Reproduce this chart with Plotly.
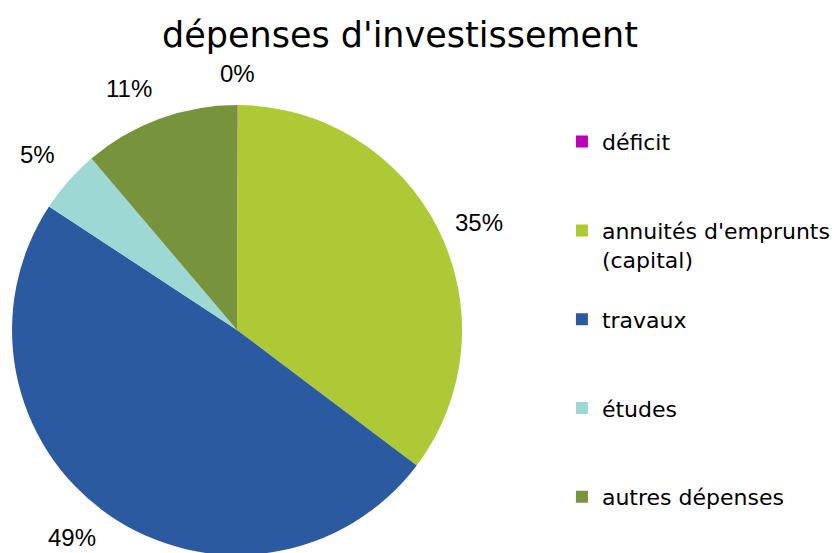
import math
import plotly.graph_objects as go

labels = ["déficit", "annuités d'emprunts (capital)", "travaux", "études", "autres dépenses"]
legend_names = ["déficit", "annuités d'emprunts<br>(capital)", "travaux", "études", "autres dépenses"]
values = [0.04, 35.25, 49.0, 4.55, 11.2]
colors = ["#B800B8", "#ADC935", "#2B5AA0", "#9DD8D4", "#77933C"]

W, H = 838, 553
VISIBLE_BOTTOM = H - 8  # page body margin shifts the figure down by 8px
dom_x = [0.0048, 0.5418]
dom_y = [0.0108, 0.8246]


# pad legend entries to the same number of lines so entries are evenly spaced
def pad(name, n=3):
    k = name.count("<br>") + 1
    return name + "<br>&nbsp;" * (n - k)


names = [pad(n) for n in legend_names[:-1]] + [legend_names[-1]]

fig = go.Figure(go.Pie(
    labels=names,
    values=values,
    sort=False,
    direction="clockwise",
    rotation=0,
    marker=dict(colors=colors),
    textinfo="none",
    domain=dict(x=dom_x, y=dom_y),
    hovertext=labels,
    hoverinfo="text+percent",
))

# percentage labels placed outside each slice, derived from the data
LABEL_SIZE = 24
label_h = LABEL_SIZE * 1.25
total = sum(values)
wpx = (dom_x[1] - dom_x[0]) * W
hpx = (dom_y[1] - dom_y[0]) * H
r = min(wpx, hpx) / 2
cx = (dom_x[0] + dom_x[1]) / 2 * W
cy = (1 - (dom_y[0] + dom_y[1]) / 2) * H
annotations = []
cum = 0.0
for v in values:
    mid = (cum + v / 2) / total * 2 * math.pi
    cum += v
    sx, cyd = math.sin(mid), math.cos(mid)
    rl = r * 1.07
    px = cx + rl * sx
    py = cy - rl * cyd
    xa = "left" if sx > 0.3 else ("right" if sx < -0.3 else "center")
    ya = "bottom" if cyd > 0.5 else ("top" if cyd < -0.5 else "middle")
    # keep the label inside the visible page
    if ya == "top" and py + label_h > VISIBLE_BOTTOM:
        ya = "bottom"
        py = VISIBLE_BOTTOM
    annotations.append(dict(
        x=px / W, y=1 - py / H, xref="paper", yref="paper",
        text=f"{round(v / total * 100)}%", showarrow=False,
        xanchor=xa, yanchor=ya,
        font=dict(family="Liberation Sans", size=LABEL_SIZE, color="#000000"),
    ))

fig.update_layout(
    width=W, height=H,
    margin=dict(l=0, r=0, t=0, b=0, autoexpand=False),
    paper_bgcolor="white",
    plot_bgcolor="white",
    title=dict(text="dépenses d'investissement", x=0.4678, xanchor="center",
               y=1 - 26.5 / H, yanchor="middle",
               font=dict(family="DejaVu Sans", size=35, color="#000000")),
    legend=dict(x=0.661, y=0.796, xanchor="left", yanchor="top",
                valign="top", traceorder="normal",
                font=dict(family="DejaVu Sans", size=22, color="#000000")),
    annotations=annotations,
    showlegend=True,
)

fig.write_html("out.html")
